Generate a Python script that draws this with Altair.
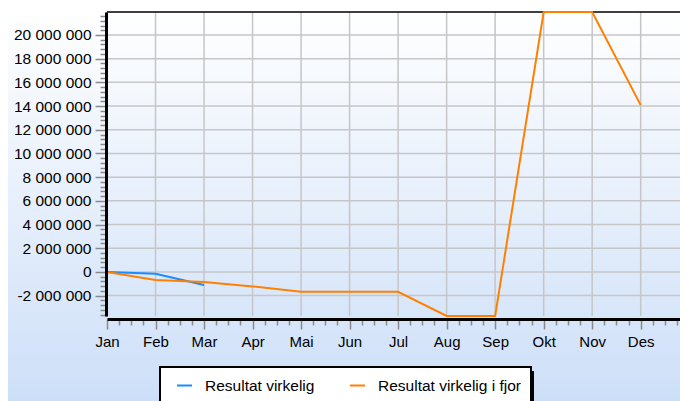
import altair as alt
import pandas as pd

months = ["Jan", "Feb", "Mar", "Apr", "Mai", "Jun", "Jul", "Aug", "Sep", "Okt", "Nov", "Des"]
series_names = ["Resultat virkelig", "Resultat virkelig i fjor"]
actual = [0, -150000, -1100000]
last_year = [0, -680000, -850000, -1220000, -1680000, -1680000, -1680000,
             -3720000, -3720000, 21940000, 21940000, 14080000]
colors = ["#1a8cff", "#ff8000"]

y_major = [-2000000, 0, 2000000, 4000000, 6000000, 8000000, 10000000,
           12000000, 14000000, 16000000, 18000000, 20000000]
y_ticks = [i * 400000 for i in range(-9, 55)]
x_major = list(range(12))
x_ticks = [i / 4 for i in range(48)]
x_end = 11.81

rows = []
for i, v in enumerate(actual):
    rows.append({"series": series_names[0], "m": i, "value": v})
for i, v in enumerate(last_year):
    rows.append({"series": series_names[1], "m": i, "value": v})
df = pd.DataFrame(rows)

W, H = 573, 304
PL, PT, PB = 99, 4, 85
FONT = "Liberation Sans"

xscale = alt.Scale(domain=[0, x_end], nice=False, zero=False)
yscale = alt.Scale(domain=[min(last_year), max(last_year)], nice=False, zero=False)

month_arr = "[" + ",".join("'" + m + "'" for m in months) + "]"

x_axis = alt.Axis(
    title=None, values=x_ticks, grid=False, zindex=1, offset=3,
    labelExpr=f"(datum.value % 1 === 0) ? {month_arr}[datum.value] : ''",
    labelFont=FONT, labelFontSize=15, labelColor="black", labelPadding=5,
    labelOverlap=False, labelFlush=False,
    tickColor="#8a8a8a", tickWidth=1.5,
    tickSize={"condition": {"test": "datum.value % 1 === 0", "value": 10}, "value": 6},
    domainColor="black", domainWidth=3,
)
y_axis = alt.Axis(
    title=None, values=y_ticks, grid=False, zindex=1, format=",d", offset=1,
    labelExpr="datum.value % 2000000 === 0 ? datum.label : ''",
    labelFont=FONT, labelFontSize=15.5, labelColor="black", labelPadding=4,
    labelOverlap=False,
    tickColor="#8a8a8a", tickWidth=1.5,
    tickSize={"condition": {"test": "datum.value % 2000000 === 0", "value": 11}, "value": 6},
    domainColor="black", domainWidth=3,
)

X = alt.X("m:Q", scale=xscale, axis=x_axis)
Y = alt.Y("value:Q", scale=yscale, axis=y_axis)

grad = alt.LinearGradient(
    gradient="linear", x1=0, y1=0, x2=0, y2=1,
    stops=[alt.GradientStop(offset=0, color="#ffffff"),
           alt.GradientStop(offset=1, color="#cddff8")],
)
one = pd.DataFrame({"k": [0]})
bg = alt.Chart(one).mark_rect(fill=grad).encode(
    x=alt.value(-PL), x2=alt.value(W), y=alt.value(-PT), y2=alt.value(H + PB)
)

hgrid = alt.Chart(pd.DataFrame({"value": y_major})).mark_rule(
    color="#c6c6c6", strokeWidth=1.5).encode(y=Y)
vgrid = alt.Chart(pd.DataFrame({"m": x_major})).mark_rule(
    color="#c6c6c6", strokeWidth=1.5).encode(x=X)
top = alt.Chart(one).mark_rule(color="black", strokeWidth=1.5).encode(y=alt.value(0))

shadow = alt.Chart(one).mark_rect(color="black").encode(
    x=alt.value(57), x2=alt.value(427), y=alt.value(359), y2=alt.value(H + PB)
)

lines = alt.Chart(df).mark_line(strokeWidth=2).encode(
    x=X, y=Y,
    color=alt.Color(
        "series:N",
        scale=alt.Scale(domain=series_names, range=colors),
        legend=alt.Legend(
            title=None, orient="none", legendX=53, legendY=355,
            direction="horizontal", symbolType="stroke", symbolSize=225,
            symbolStrokeWidth=2, labelFont=FONT, labelFontSize=15.5,
            labelColor="black", labelOffset=12, columnPadding=28,
            padding=10, symbolOffset=6, fillColor="white",
            strokeColor="black", zindex=2,
        ),
    ),
    detail="series:N",
)

chart = alt.layer(bg, hgrid, vgrid, top, shadow, lines).properties(
    width=W, height=H,
    padding={"left": PL, "top": PT, "right": 0, "bottom": PB},
    autosize=alt.AutoSizeParams(type="none"),
    background="#e4eefb",
).configure_view(stroke=None).configure(
    locale={"number": {"decimal": ",", "thousands": " ", "grouping": [3],
                       "currency": ["", " kr"], "minus": "-"}}
).configure_legend(strokeWidth=2)

chart.save("out.html", embed_options={"renderer": "svg", "actions": False})
